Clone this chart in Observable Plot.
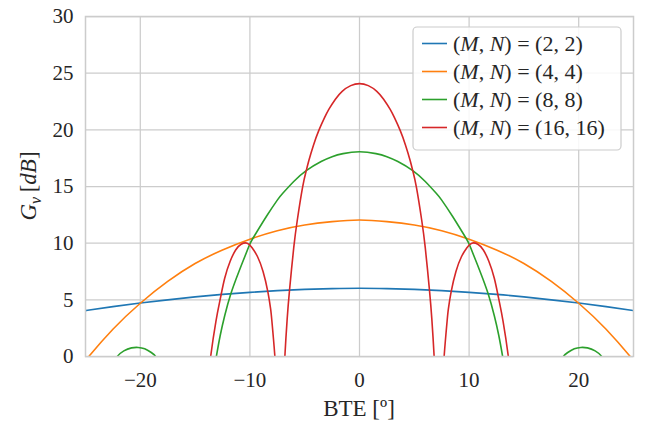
<!DOCTYPE html>
<html>
<head>
<meta charset="utf-8">
<script src="https://cdn.jsdelivr.net/npm/d3@7"></script>
<script src="https://cdn.jsdelivr.net/npm/@observablehq/plot@0.6"></script>
<style>
  html, body { margin: 0; padding: 0; background: white; }
  #chart { width: 646px; height: 427px; }
  #chart svg text { font-family: "Liberation Serif", "Times New Roman", serif; }
</style>
</head>
<body>
<div id="chart"></div>
<script>
// ---- data ----
const arraySizes = [2, 4, 8, 16];            // (M,N) = (n,n)
const seriesColors = ["#1f77b4", "#ff7f0e", "#2ca02c", "#d62728"];
const xTicks = [-20, -10, 0, 10, 20];
const yTicks = [0, 5, 10, 15, 20, 25, 30];

// (2,2)
const bte_2 = [-25, -22.5, -20, -17.5, -15, -12.5, -10, -7.5, -5, -2.5, 0, 2.5, 5, 7.5, 10, 12.5, 15, 17.5, 20, 22.5, 25];
const gain_2 = [4.05, 4.4, 4.72, 5.0, 5.26, 5.48, 5.66, 5.81, 5.92, 5.99, 6.02, 5.99, 5.92, 5.81, 5.66, 5.48, 5.26, 5.0, 4.72, 4.4, 4.05];

// (4,4)
const bte_4 = [-25, -24.7, -22.5, -20, -17.5, -15, -12.5, -10, -7.5, -5, -2.5, 0, 2.5, 5, 7.5, 10, 12.5, 15, 17.5, 20, 22.5, 24.7, 25];
const gain_4 = [-0.4, 0, 2.4, 4.7, 6.62, 8.2, 9.4, 10.35, 11.1, 11.6, 11.9, 12.04, 11.9, 11.6, 11.1, 10.35, 9.4, 8.2, 6.62, 4.7, 2.4, 0, -0.4];

// (8,8)  (NaN = break between lobes)
const bte_8 = [-22.4, -22.1, -21.5, -20.8, -20.2, -19.6, -19.0, -18.6, -18.3, NaN,
  -13.4, -13.06, -12.7, -12.3, -11.76, -11, -10.1, -9.68, -8.5, -7.5, -7, -6, -4.86, -3.5, -2.5, -1.5, 0,
  1.5, 2.5, 3.5, 4.86, 6, 7, 7.5, 8.5, 9.68, 10.1, 11, 11.76, 12.3, 12.7, 13.06, 13.4, NaN,
  18.3, 18.6, 19.0, 19.6, 20.2, 20.8, 21.5, 22.1, 22.4];
const gain_8 = [-0.6, 0, 0.5, 0.76, 0.8, 0.68, 0.35, 0, -0.6, NaN,
  -2, 0, 1.9, 3.6, 5.47, 7.5, 9.7, 10.5, 12.35, 13.8, 14.4, 15.44, 16.4, 17.2, 17.63, 17.9, 18.06,
  17.9, 17.63, 17.2, 16.4, 15.44, 14.4, 13.8, 12.35, 10.5, 9.7, 7.5, 5.47, 3.6, 1.9, 0, -2, NaN,
  -0.6, 0, 0.35, 0.68, 0.8, 0.76, 0.5, 0, -0.6];

// (16,16)
const bte_16 = [-13.8, -13.58, -13.1, -12.7, -12.3, -11.8, -11.3, -10.8, -10.25, -9.8, -9.3, -8.8, -8.36, -8.11, -8.0, -7.72, -7.45, NaN,
  -7.0, -6.81, -6.6, -6.38, -6.0, -5.68, -5.2, -4.86, -4.62, -4.2, -3.71, -3.2, -2.8, -2.2, -1.58, -0.8, 0,
  0.8, 1.58, 2.2, 2.8, 3.2, 3.71, 4.2, 4.62, 4.86, 5.2, 5.68, 6.0, 6.38, 6.6, 6.81, 7.0, NaN,
  7.45, 7.72, 8.0, 8.11, 8.36, 8.8, 9.3, 9.8, 10.25, 10.8, 11.3, 11.8, 12.3, 12.7, 13.1, 13.58, 13.8];
const gain_16 = [-2, 0, 3.1, 5.1, 6.9, 8.4, 9.4, 9.9, 10.0, 9.6, 8.8, 7.5, 5.7, 4.2, 3.2, 0, -4, NaN,
  -4, 0, 3.3, 5.9, 9.6, 12.0, 14.9, 16.4, 17.3, 18.65, 19.95, 21.05, 21.8, 22.7, 23.4, 23.9, 24.08,
  23.9, 23.4, 22.7, 21.8, 21.05, 19.95, 18.65, 17.3, 16.4, 14.9, 12.0, 9.6, 5.9, 3.3, 0, -4, NaN,
  -4, 0, 3.2, 4.2, 5.7, 7.5, 8.8, 9.6, 10.0, 9.9, 9.4, 8.4, 6.9, 5.1, 3.1, 0, -2];

const bteSeries = [bte_2, bte_4, bte_8, bte_16];
const gainSeries = [gain_2, gain_4, gain_8, gain_16];
const seriesNames = arraySizes.map(n => `(M,N)=(${n},${n})`);

// tidy rows for Plot
const rows = [];
bteSeries.forEach((xs, i) => {
  xs.forEach((x, j) => rows.push({series: seriesNames[i], x, y: gainSeries[i][j]}));
});

const FONT = "Liberation Serif, Times New Roman, serif";
const gridColor = "#cccccc";
const textColor = "#262626";

const plot = Plot.plot({
  width: 646,
  height: 427,
  marginLeft: 85,
  marginRight: 13,
  marginTop: 16,
  marginBottom: 71,
  style: {fontFamily: FONT, fontSize: "21px", color: textColor, background: "white", overflow: "visible"},
  x: {domain: [-25, 25], label: null},
  y: {domain: [0, 30], label: null},
  color: {domain: seriesNames, range: seriesColors},
  marks: [
    Plot.gridX(xTicks, {stroke: gridColor, strokeOpacity: 1, strokeWidth: 1.25}),
    Plot.gridY(yTicks, {stroke: gridColor, strokeOpacity: 1, strokeWidth: 1.25}),
    Plot.axisX(xTicks, {tickSize: 0, tickPadding: 16, fontSize: 21, fontFamily: FONT, tickFormat: d => d3.format("d")(d)}),
    Plot.axisY(yTicks, {tickSize: 0, tickPadding: 12, fontSize: 21, fontFamily: FONT}),
    Plot.line(rows, {x: "x", y: "y", z: "series", stroke: "series", strokeWidth: 1.6, curve: "natural", clip: true}),
    Plot.frame({stroke: gridColor, strokeWidth: 1.5})
  ]
});

document.getElementById("chart").appendChild(plot);

const svg = d3.select(plot);

// axis labels
svg.append("text")
  .attr("x", 359).attr("y", 416)
  .attr("text-anchor", "middle")
  .attr("font-family", FONT).attr("font-size", 23).attr("fill", textColor)
  .text("BTE [º]");

const yl = svg.append("text")
  .attr("transform", "translate(36,186) rotate(-90)")
  .attr("text-anchor", "middle")
  .attr("font-family", FONT).attr("font-size", 23).attr("fill", textColor);
yl.append("tspan").attr("font-style", "italic").text("G");
yl.append("tspan").attr("font-style", "italic").attr("font-size", 16).attr("dy", 5).text("v");
yl.append("tspan").attr("dy", -5).text("\u2009[");
yl.append("tspan").attr("font-style", "italic").text("dB");
yl.append("tspan").text("]");

// legend
const lg = svg.append("g").attr("text-anchor", "start");
lg.append("rect")
  .attr("x", 413).attr("y", 27).attr("width", 208).attr("height", 123)
  .attr("rx", 4).attr("fill", "white").attr("fill-opacity", 0.85)
  .attr("stroke", gridColor).attr("stroke-width", 1.2);
arraySizes.forEach((n, i) => {
  const yy = 43.5 + i * 28;
  lg.append("line")
    .attr("x1", 422).attr("x2", 447).attr("y1", yy).attr("y2", yy)
    .attr("stroke", seriesColors[i]).attr("stroke-width", 1.6);
  const t = lg.append("text")
    .attr("x", 453).attr("y", yy).attr("dy", "0.35em")
    .attr("text-anchor", "start")
    .attr("font-family", FONT).attr("font-size", 22).attr("fill", textColor)
    .attr("xml:space", "preserve");
  t.append("tspan").text("(");
  t.append("tspan").attr("font-style", "italic").text("M");
  t.append("tspan").text(", ");
  t.append("tspan").attr("font-style", "italic").text("N");
  t.append("tspan").text(`) = (${n}, ${n})`);
});
</script>
</body>
</html>
